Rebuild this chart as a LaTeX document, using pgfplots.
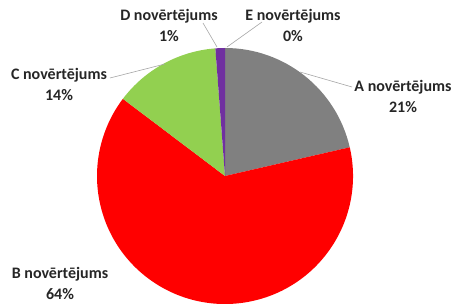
\documentclass[border=0pt]{standalone}
\usepackage{pgfplots}
\usepackage{pgfplotstable}
\pgfplotsset{compat=1.18}
\usepackage{fontspec}
\setmainfont{Carlito}
\definecolor{cA}{HTML}{808080}
\definecolor{cB}{HTML}{FF0000}
\definecolor{cC}{HTML}{92D050}
\definecolor{cD}{HTML}{7030A0}
\definecolor{cE}{HTML}{4F81BD}
\pgfplotstableread{
grade pct
A 21.4
B 63.9
C 13.5
D 1.2
E 0.0
}\piedata
\begin{document}
\begin{tikzpicture}
\pgfplotstablegetelem{0}{pct}\of\piedata \let\pA\pgfplotsretval
\pgfplotstablegetelem{1}{pct}\of\piedata \let\pB\pgfplotsretval
\pgfplotstablegetelem{2}{pct}\of\piedata \let\pC\pgfplotsretval
\pgfplotstablegetelem{3}{pct}\of\piedata \let\pD\pgfplotsretval
\pgfplotstablegetelem{4}{pct}\of\piedata \let\pE\pgfplotsretval
\pgfmathsetmacro\aA{90-3.6*\pA}
\pgfmathsetmacro\aB{\aA-3.6*\pB}
\pgfmathsetmacro\aC{\aB-3.6*\pC}
\pgfmathsetmacro\aD{\aC-3.6*\pD}
\pgfmathsetmacro\aE{\aD-3.6*\pE}
\begin{axis}[scale only axis, width=456bp, height=304bp,
  xmin=0, xmax=456, ymin=0, ymax=304, hide axis, clip=false]
\coordinate (bl) at (axis cs:0,0);
\coordinate (tr) at (axis cs:456,304);
\fill[cA] (axis cs:225,128) -- ++(90:128bp) arc[start angle=90, end angle=\aA, radius=128bp] -- cycle;
\fill[cB] (axis cs:225,128) -- ++(\aA:128bp) arc[start angle=\aA, end angle=\aB, radius=128bp] -- cycle;
\fill[cC] (axis cs:225,128) -- ++(\aB:128bp) arc[start angle=\aB, end angle=\aC, radius=128bp] -- cycle;
\fill[cD] (axis cs:225,128) -- ++(\aC:128bp) arc[start angle=\aC, end angle=\aD, radius=128bp] -- cycle;
\draw[gray!70, line width=0.6bp] (axis cs:217,257) -- (axis cs:203,281);
\draw[gray!70, line width=0.6bp] (axis cs:227,257) -- (axis cs:262,282);
\draw[gray!70, line width=0.6bp] (axis cs:165,240) -- (axis cs:110,226);
\draw[gray!70, line width=0.6bp] (axis cs:300,232) -- (axis cs:352,217);
\tikzset{lbl/.style={align=center, inner sep=0pt, font=\bfseries\fontsize{16bp}{21bp}\selectfont, text=black!85}}
\node[lbl] at (axis cs:169,279) {D novērtējums\\1\%};
\node[lbl] at (axis cs:293,279) {E novērtējums\\0\%};
\node[lbl] at (axis cs:59,220) {C novērtējums\\14\%};
\node[lbl] at (axis cs:403,208) {A novērtējums\\21\%};
\node[lbl] at (axis cs:60,21) {B novērtējums\\64\%};
\end{axis}
\pgfresetboundingbox
\path[use as bounding box] (bl) rectangle (tr);
\end{tikzpicture}
\end{document}
